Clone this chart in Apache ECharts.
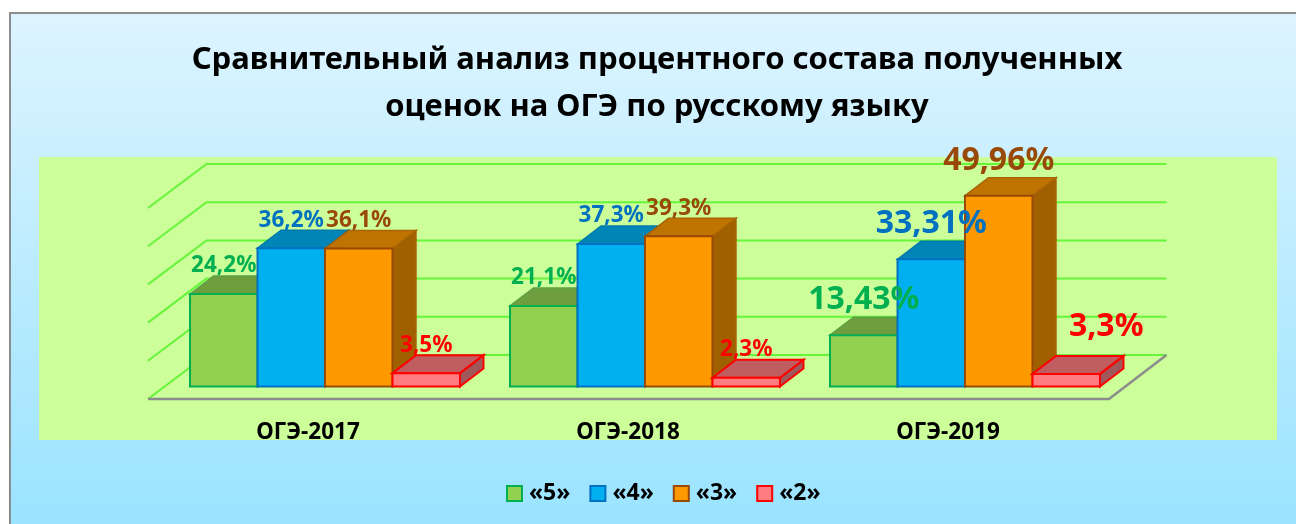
<!DOCTYPE html>
<html lang="ru">

<head>
  <meta charset="UTF-8">
  <title>ОГЭ</title>
  <style>
    html, body { margin: 0; padding: 0; background: #fff; }
  </style>
</head>

<body>
  <div id="main" style="width: 1296px; height: 524px;"></div>

  <script src="https://cdn.jsdelivr.net/npm/echarts@6/dist/echarts.min.js"></script>
  <script type="text/javascript">
    const categories = ['ОГЭ-2017', 'ОГЭ-2018', 'ОГЭ-2019'];
    const seriesNames = ['«5»', '«4»', '«3»', '«2»'];
    const grade5 = [24.2, 21.1, 13.43];
    const grade4 = [36.2, 37.3, 33.31];
    const grade3 = [36.1, 39.3, 49.96];
    const grade2 = [3.5, 2.3, 3.3];
    const gridValues = [0, 10, 20, 30, 40, 50];
    const titleText = 'Сравнительный анализ процентного состава полученных\nоценок на ОГЭ по русскому языку';

    const font = '"Noto Sans", "Open Sans", sans-serif';
    const palette = [
      { front: '#92d050', border: '#00b050', edge: '#5fa045', top: '#6f9e3e', side: '#5f8a35', label: '#00b050' },
      { front: '#00b0f0', border: '#0070c0', edge: '#0079ab', top: '#0085b6', side: '#00719c', label: '#0070c0' },
      { front: '#ff9900', border: '#984807', edge: '#a86405', top: '#bf7300', side: '#a06000', label: '#984807' },
      { front: '#ff7c80', border: '#ff0000', edge: '#ff0000', top: '#bf5d60', side: '#a0575a', label: '#ff0000' }
    ];

    // depth of the fake 3d, in pixels
    const barDepth = [23.5, -18];
    const wallShift = [41.5, -31.5];
    const floorShift = [-17, 12.5];

    function renderGrid(params, api) {
      const sys = params.coordSys;
      const value = api.value(1);
      const y = api.coord([0, value])[1];
      const left = sys.x;
      const right = sys.x + sys.width;
      const line = { stroke: '#66f53a', lineWidth: 2, fill: null };
      const children = [{
        type: 'polyline',
        shape: {
          points: [
            [left + floorShift[0], y + floorShift[1]],
            [left + wallShift[0], y + wallShift[1]],
            [right + wallShift[0], y + wallShift[1]]
          ]
        },
        style: line
      }];
      if (value === 0) {
        children.push({
          type: 'polyline',
          shape: {
            points: [
              [left + floorShift[0], y + floorShift[1]],
              [right + floorShift[0] + 1, y + floorShift[1]],
              [right + wallShift[0], y + wallShift[1]]
            ]
          },
          style: { stroke: '#8c8c8c', lineWidth: 2.5, fill: null }
        });
      }
      return { type: 'group', children: children };
    }

    function renderBar(params, api) {
      const s = params.seriesIndex - 1;
      const c = palette[s];
      const catIndex = api.value(0);
      const value = api.value(1);
      const center = api.coord([catIndex, 0]);
      const band = api.size([1, 0])[0];
      const w = band * 0.2109;
      const x0 = center[0] - 2 * w + s * w;
      const x1 = x0 + w;
      const yb = center[1];
      const yt = api.coord([catIndex, value])[1];
      const dx = barDepth[0];
      const dy = barDepth[1];

      const big = catIndex === 2;
      let labelX = (x0 + x1) / 2;
      let labelY = yt - (big ? 35 : 28);
      // the last label was moved by hand in the original
      if (big && s === 3) {
        labelX += 40;
        labelY = yt - 47;
      }

      return {
        type: 'group',
        children: [{
          type: 'polygon',
          shape: { points: [[x1, yb], [x1 + dx, yb + dy], [x1 + dx, yt + dy], [x1, yt]] },
          style: { fill: c.side, stroke: c.edge, lineWidth: s === 3 ? 2 : 1.5 }
        }, {
          type: 'polygon',
          shape: { points: [[x0, yt], [x0 + dx, yt + dy], [x1 + dx, yt + dy], [x1, yt]] },
          style: { fill: c.top, stroke: c.edge, lineWidth: s === 3 ? 2 : 1.5 }
        }, {
          type: 'rect',
          shape: { x: x0, y: yt, width: w, height: yb - yt },
          style: { fill: c.front, stroke: c.border, lineWidth: 2 }
        }, {
          type: 'text',
          z2: 100,
          style: {
            x: labelX,
            y: labelY,
            text: String(value).replace('.', ',') + '%',
            fill: c.label,
            font: '700 ' + (big ? 32 : 22.5) + 'px ' + font,
            textAlign: 'center',
            textVerticalAlign: 'middle'
          }
        }]
      };
    }

    const barData = [grade5, grade4, grade3, grade2];

    const option = {
      animation: false,
      graphic: [{
        type: 'rect',
        z: -10,
        shape: { x: 10, y: 13, width: 1300, height: 530 },
        style: {
          stroke: '#8c8c8c',
          lineWidth: 2,
          fill: new echarts.graphic.LinearGradient(0, 0, 0, 1, [
            { offset: 0, color: '#ddf4ff' },
            { offset: 1, color: '#98e3ff' }
          ])
        }
      }, {
        type: 'rect',
        z: -9,
        shape: { x: 39, y: 157, width: 1238, height: 283 },
        style: { fill: '#ccff99' }
      }],
      title: {
        text: titleText,
        left: 652,
        top: 32,
        textAlign: 'center',
        textStyle: { fontFamily: font, fontWeight: 700, fontSize: 31, lineHeight: 47, color: '#000' }
      },
      legend: {
        left: 501,
        top: 477,
        itemWidth: 15,
        itemHeight: 15,
        itemGap: 19,
        textStyle: { fontFamily: font, fontWeight: 700, fontSize: 23, color: '#000', padding: [0, 0, 0, 2] },
        data: seriesNames.map((name, i) => ({
          name: name,
          icon: 'rect',
          itemStyle: { color: palette[i].front, borderColor: palette[i].border, borderWidth: 2 }
        }))
      },
      grid: { left: 165, top: 195.5, width: 960, height: 191 },
      xAxis: {
        type: 'category',
        data: categories,
        axisLine: { show: false },
        axisTick: { show: false },
        splitLine: { show: false },
        axisLabel: {
          margin: 35,
          padding: [0, 34, 0, 0],
          color: '#000',
          fontFamily: font,
          fontWeight: 700,
          fontSize: 22.5
        }
      },
      yAxis: { type: 'value', min: 0, max: 50, interval: 10, show: false },
      series: [{
        type: 'custom',
        name: 'grid',
        silent: true,
        clip: false,
        renderItem: renderGrid,
        encode: { x: 0, y: 1 },
        data: gridValues.map(v => [0, v])
      }].concat(seriesNames.map((name, i) => ({
        type: 'custom',
        name: name,
        clip: false,
        renderItem: renderBar,
        encode: { x: 0, y: 1 },
        itemStyle: { color: palette[i].front },
        data: barData[i].map((v, k) => [k, v])
      })))
    };

    const myChart = echarts.init(document.getElementById('main'));
    myChart.setOption(option);
  </script>
</body>

</html>
